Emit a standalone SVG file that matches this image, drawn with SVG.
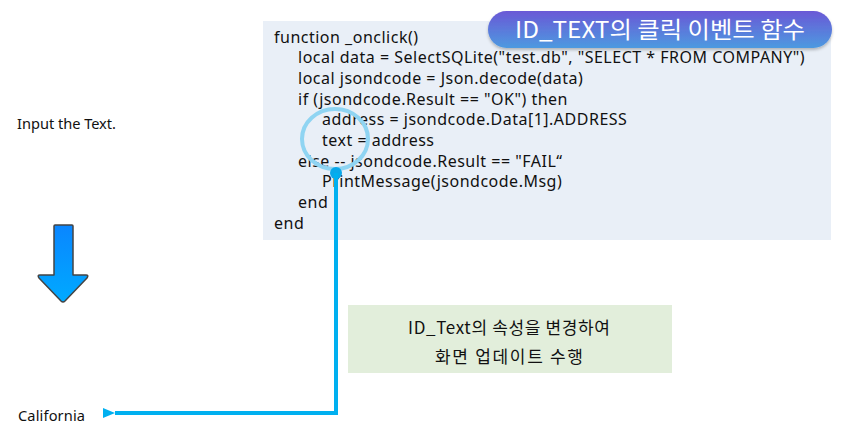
<svg xmlns="http://www.w3.org/2000/svg" width="843" height="441" viewBox="0 0 843 441">
<defs>
<linearGradient id="badgeGrad" x1="0" y1="0" x2="0" y2="1">
<stop offset="0" stop-color="#6a58d6"/>
<stop offset="1" stop-color="#4d9ae0"/>
</linearGradient>
<linearGradient id="arrowGrad" x1="0" y1="0" x2="0" y2="1">
<stop offset="0" stop-color="#0a86ff"/>
<stop offset="1" stop-color="#00aaff"/>
</linearGradient>
<filter id="shadow" x="-10%" y="-30%" width="120%" height="170%">
<feDropShadow dx="0" dy="2" stdDeviation="1.5" flood-color="#000" flood-opacity="0.25"/>
</filter>
<marker id="arrowHead" markerWidth="12" markerHeight="10" refX="0" refY="5" orient="auto" markerUnits="userSpaceOnUse">
<path d="M12,0 L0,5 L12,10 Z" fill="#00b0f0"/>
</marker>
</defs>
<style>
.code{font-family:"Noto Sans","Noto Sans CJK KR",sans-serif;font-size:16px;letter-spacing:0.5px;fill:#111}
.lbl{font-family:"Noto Sans","Noto Sans CJK KR",sans-serif;font-size:14.6px;fill:#111}
.note{font-family:"Noto Sans CJK KR","Noto Sans",sans-serif;font-size:17px;fill:#111}
.badge{font-family:"Noto Sans CJK KR","Noto Sans",sans-serif;font-size:23px;fill:#fff}
</style>
<rect width="843" height="441" fill="#fff"/>
<g id="code-box">
<rect x="263" y="21" width="568" height="219" fill="#e9eff7"/>
<text class="code" x="274" y="42.5">function _onclick()</text>
<text class="code" x="298" y="63">local data = SelectSQLite("test.db", "SELECT * FROM COMPANY")</text>
<text class="code" x="298" y="84">local jsondcode = Json.decode(data)</text>
<text class="code" x="298" y="104.5">if (jsondcode.Result == "OK") then</text>
<text class="code" x="322" y="125">address = jsondcode.Data[1].ADDRESS</text>
<text class="code" x="322" y="146">text = address</text>
<text class="code" x="298" y="166.5">else -- jsondcode.Result == "FAIL“</text>
<text class="code" x="322" y="187">PrintMessage(jsondcode.Msg)</text>
<text class="code" x="298" y="208">end</text>
<text class="code" x="274" y="228.5">end</text>
</g>
<g id="badge">
<rect x="488" y="11" width="344" height="37" rx="18.5" fill="url(#badgeGrad)" filter="url(#shadow)"/>
<text class="badge" x="515" y="37.5" textLength="290" lengthAdjust="spacingAndGlyphs">ID_TEXT의 클릭 이벤트 함수</text>
</g>
<g id="input-label">
<text class="lbl" x="17" y="129" textLength="99">Input the Text.</text>
</g>
<g id="down-arrow">
<path d="M54,226 Q54,225 55,225 L72,225 Q73,225 73,226 L73,275 L86,275 Q89,275 87,278 L65,301 Q63,303 61,301 L39,278 Q37,275 40,275 L54,275 Z" fill="url(#arrowGrad)" stroke="#444" stroke-width="1.5" stroke-linejoin="round"/>
</g>
<g id="california-label">
<text class="lbl" x="18" y="421" textLength="67">California</text>
</g>
<g id="note-box">
<rect x="348" y="305" width="324" height="68" fill="#e2eedb"/>
<text class="note" x="408" y="333.5" textLength="202">ID_Text의 속성을 변경하여</text>
<text class="note" x="435" y="362.5" textLength="148">화면 업데이트 수행</text>
</g>
<g id="connectors">
<ellipse cx="335" cy="139" rx="33" ry="30" fill="none" stroke="#8fd4f2" stroke-width="4"/>
<circle cx="336" cy="173" r="6" fill="#0aa8ea"/>
<path d="M336,173 L336,413 L115,413" fill="none" stroke="#00b0f0" stroke-width="4" marker-end="url(#arrowHead)"/>
</g>
</svg>
